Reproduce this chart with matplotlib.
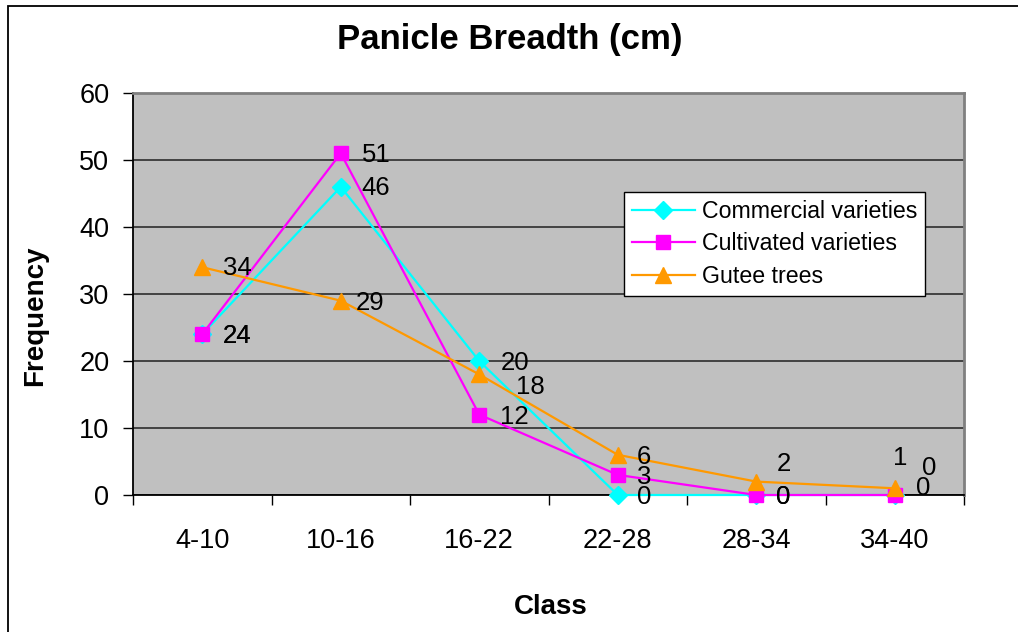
import matplotlib
matplotlib.use('Agg')
import matplotlib.pyplot as plt
from matplotlib.patches import Rectangle

plt.rcParams['font.family'] = ['Liberation Sans', 'DejaVu Sans']

classes = ['4-10', '10-16', '16-22', '22-28', '28-34', '34-40']
commercial = [24, 46, 20, 0, 0, 0]
cultivated = [24, 51, 12, 3, 0, 0]
gutee = [34, 29, 18, 6, 2, 1]

# label nudges in pixels (right, up) so the value labels don't collide
commercial_off = [(21, -2), (21, -1), (21, -2), (19, -2), (20, -2), (21, 7)]
cultivated_off = [(21, -2), (21, -2), (21, -2), (19, -2), (20, -2), (27, 27)]
gutee_off = [(21, -1), (15, -2), (37, -13), (19, -2), (21, 18), (-2, 30)]

fig = plt.figure(figsize=(10.18, 6.32), dpi=100)
ax = fig.add_axes([133 / 1018, 137 / 632, 831 / 1018, 402 / 632])
ax.set_facecolor('#C0C0C0')

x = list(range(len(classes)))
series = [
    (commercial, commercial_off, '#00FFFF', 'D', 9.5, 'Commercial varieties'),
    (cultivated, cultivated_off, '#FF00FF', 's', 9.5, 'Cultivated varieties'),
    (gutee, gutee_off, '#FF9900', '^', 12, 'Gutee trees'),
]
for vals, offs, col, mk, ms, name in series:
    ax.plot(x, vals, color=col, lw=1.6, marker=mk, markersize=ms,
            markeredgecolor=col, label=name, clip_on=False, zorder=3)
    for xi, v, (dx, dy) in zip(x, vals, offs):
        ax.annotate(str(v), (xi, v), xytext=(dx, dy), textcoords='offset pixels',
                    ha='left', va='center', fontsize=18.5, zorder=4)

ax.set_xlim(-0.5, 5.5)
ax.set_ylim(0, 60)
ax.set_yticks(range(0, 61, 10))
ax.yaxis.grid(True, color='#202020', lw=1.1)
ax.set_axisbelow(True)

# category boundaries carry the tick marks, centers carry the labels
ax.set_xticks([i - 0.5 for i in range(len(classes) + 1)])
ax.set_xticklabels([])
ax.set_xticks(x, minor=True)
ax.set_xticklabels(classes, minor=True)
ax.tick_params(axis='x', which='major', length=7, width=1, direction='out')
ax.tick_params(axis='x', which='minor', length=0, pad=24, labelsize=19.5)
ax.tick_params(axis='y', length=7, width=1, pad=10, labelsize=19.5)

for s in ['left', 'bottom']:
    ax.spines[s].set_color('black')
    ax.spines[s].set_linewidth(1.3)
for s in ['top', 'right']:
    ax.spines[s].set_color('#808080')
    ax.spines[s].set_linewidth(2)

fig.text(510 / 1018, 1 - 40 / 632, 'Panicle Breadth (cm)', ha='center', va='center',
         fontsize=25, fontweight='bold')
fig.text(35 / 1018, 1 - 316 / 632, 'Frequency', ha='center', va='center',
         rotation=90, fontsize=20, fontweight='bold')
fig.text(551 / 1018, 1 - 607 / 632, 'Class', ha='center', va='center',
         fontsize=20, fontweight='bold')

leg = ax.legend(loc='upper left', bbox_to_anchor=(624 / 1018, 1 - 192 / 632),
                bbox_transform=fig.transFigure, borderaxespad=0, fancybox=False,
                framealpha=1, edgecolor='black', fontsize=16.7, handlelength=2.7,
                handletextpad=0.3, labelspacing=0.4, borderpad=0.35)
leg.get_frame().set_linewidth(1)

fig.add_artist(Rectangle((8 / 1018, -0.1), 2, 1.1 - 6 / 632, transform=fig.transFigure,
                         fill=False, edgecolor='black', lw=1.3, clip_on=False))

fig.savefig('out.png', dpi=100)
